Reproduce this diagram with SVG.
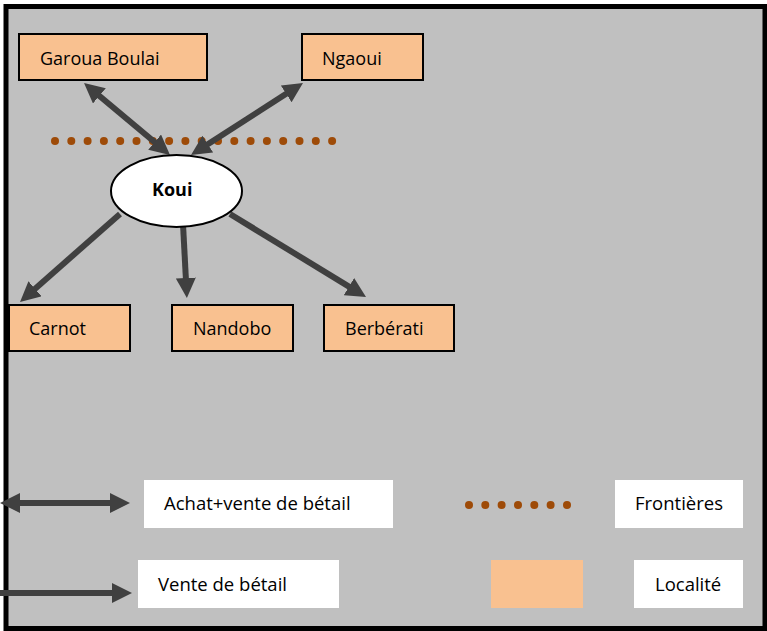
<svg xmlns="http://www.w3.org/2000/svg" width="767" height="631" viewBox="0 0 767 631">
<style>
.loc{fill:#F9C190;stroke:#000;stroke-width:2}
.t{font-family:"Open Sans","Liberation Sans",sans-serif;font-size:18px;fill:#000}
.lt{font-family:"Open Sans","Liberation Sans",sans-serif;font-size:18.5px;fill:#000}
.arr{stroke:#404040;stroke-width:6;fill:none}
.dot{fill:#9E4B08}
.leg{fill:#fff}
</style>
<defs>
<marker id="ah" viewBox="0 -10 20 20" markerWidth="20" markerHeight="20" refX="1" refY="0" markerUnits="userSpaceOnUse" orient="auto-start-reverse">
<path d="M0,-10 L20,0 L0,10 z" fill="#404040"/>
</marker>
</defs>
<rect x="6" y="6.5" width="759" height="622" fill="#C0C0C0" stroke="#000" stroke-width="5"/>
<g id="frontier">
<circle class="dot" cx="55" cy="141" r="4"/><circle class="dot" cx="71.3" cy="141" r="4"/><circle class="dot" cx="87.6" cy="141" r="4"/><circle class="dot" cx="103.9" cy="141" r="4"/><circle class="dot" cx="120.2" cy="141" r="4"/><circle class="dot" cx="136.5" cy="141" r="4"/><circle class="dot" cx="152.8" cy="141" r="4"/><circle class="dot" cx="169.1" cy="141" r="4"/><circle class="dot" cx="185.4" cy="141" r="4"/><circle class="dot" cx="201.7" cy="141" r="4"/><circle class="dot" cx="218" cy="141" r="4"/><circle class="dot" cx="234.3" cy="141" r="4"/><circle class="dot" cx="250.6" cy="141" r="4"/><circle class="dot" cx="266.9" cy="141" r="4"/><circle class="dot" cx="283.2" cy="141" r="4"/><circle class="dot" cx="299.5" cy="141" r="4"/><circle class="dot" cx="315.8" cy="141" r="4"/><circle class="dot" cx="332.1" cy="141" r="4"/>
</g>
<g id="connectors">
<line class="arr" x1="98.6" y1="95.2" x2="155.4" y2="142.8" marker-start="url(#ah)" marker-end="url(#ah)"/>
<line class="arr" x1="287" y1="93.3" x2="207" y2="144.7" marker-start="url(#ah)" marker-end="url(#ah)"/>
<line class="arr" x1="120" y1="214" x2="34.3" y2="289.4" marker-end="url(#ah)"/>
<line class="arr" x1="183" y1="224" x2="185.9" y2="279" marker-end="url(#ah)"/>
<line class="arr" x1="230" y1="214" x2="349.8" y2="287.1" marker-end="url(#ah)"/>
</g>
<g id="koui">
<ellipse cx="176.5" cy="191" rx="65.5" ry="36" fill="#fff" stroke="#000" stroke-width="2"/>
<text class="t" x="152" y="196" font-weight="bold" font-size="17">Koui</text>
</g>
<g id="garoua"><rect class="loc" x="19" y="34" width="188" height="46"/><text class="t" x="40" y="65">Garoua Boulai</text></g>
<g id="ngaoui"><rect class="loc" x="302" y="34" width="121" height="46"/><text class="t" x="322" y="65">Ngaoui</text></g>
<g id="carnot"><rect class="loc" x="9" y="305" width="121" height="46"/><text class="t" x="29" y="335">Carnot</text></g>
<g id="nandobo"><rect class="loc" x="172" y="305" width="121" height="46"/><text class="t" x="193" y="335">Nandobo</text></g>
<g id="berberati"><rect class="loc" x="324" y="305" width="130" height="46"/><text class="t" x="345" y="335">Berbérati</text></g>
<g id="legend">
<line class="arr" x1="19" y1="503" x2="111" y2="503" marker-start="url(#ah)" marker-end="url(#ah)"/>
<rect class="leg" x="144" y="480" width="249" height="48"/>
<text class="lt" x="164" y="510">Achat+vente de bétail</text>
<circle class="dot" cx="469" cy="505" r="4"/><circle class="dot" cx="485.3" cy="505" r="4"/><circle class="dot" cx="501.6" cy="505" r="4"/><circle class="dot" cx="518" cy="505" r="4"/><circle class="dot" cx="534.3" cy="505" r="4"/><circle class="dot" cx="550.6" cy="505" r="4"/><circle class="dot" cx="567" cy="505" r="4"/>
<rect class="leg" x="615" y="480" width="128" height="48"/>
<text class="lt" x="635" y="510">Frontières</text>
<line class="arr" x1="0" y1="593" x2="113" y2="593" marker-end="url(#ah)"/>
<rect class="leg" x="138" y="560" width="201" height="48"/>
<text class="lt" x="158" y="591">Vente de bétail</text>
<rect x="491" y="560" width="92" height="48" fill="#F9C190"/>
<rect class="leg" x="634" y="560" width="109" height="48"/>
<text class="lt" x="655" y="591">Localité</text>
</g>
</svg>
